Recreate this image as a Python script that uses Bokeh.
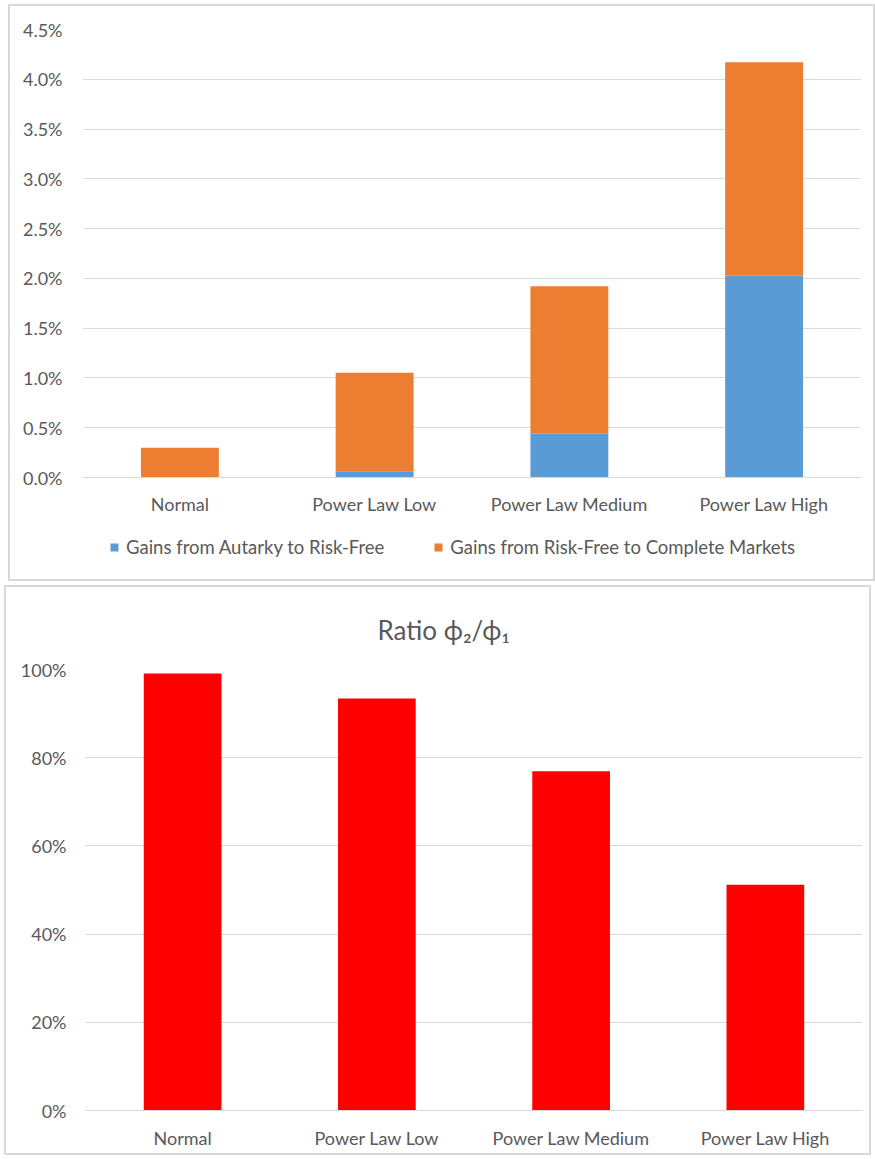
from bokeh.plotting import figure
from bokeh.models import (Legend, LegendItem, NumeralTickFormatter, FixedTicker,
                          Range1d, FactorRange, Title, ColumnDataSource)
from bokeh.layouts import column
from bokeh.embed import file_html
from bokeh.resources import INLINE

# ---- data -------------------------------------------------------------
categories = ["Normal", "Power Law Low", "Power Law Medium", "Power Law High"]
gains_autarky_to_riskfree = [0.0, 0.00063, 0.0044, 0.0203]
gains_riskfree_to_complete = [0.0030, 0.0099, 0.0148, 0.0214]
ratio_phi2_phi1 = [0.991, 0.934, 0.769, 0.512]

gain_ticks = [0.0, 0.005, 0.010, 0.015, 0.020, 0.025, 0.030, 0.035, 0.040, 0.045]
ratio_ticks = [0.0, 0.2, 0.4, 0.6, 0.8, 1.0]

series_names = ["Gains from Autarky to Risk-Free",
                "Gains from Risk-Free to Complete Markets"]

# ---- styling ----------------------------------------------------------
TEXT = "#595959"
GRID = "#D9D9D9"
BLUE = "#5B9BD5"
ORANGE = "#ED7D31"
RED = "#FF0000"
FONT = "Lato"
SIZE = "18px"
BOX = {"border": "2px solid #D9D9D9"}


def style_axes(p):
    for ax in (p.xaxis[0], p.yaxis[0]):
        ax.major_tick_line_color = None
        ax.minor_tick_line_color = None
        ax.major_tick_out = 0
        ax.major_tick_in = 0
        ax.minor_tick_out = 0
        ax.major_label_text_color = TEXT
        ax.major_label_text_font = FONT
        ax.major_label_text_font_size = SIZE
    p.yaxis.axis_line_color = None
    p.xaxis.axis_line_color = GRID
    p.xgrid.grid_line_color = None
    p.ygrid.grid_line_color = GRID
    p.ygrid.grid_line_width = 1
    p.outline_line_color = None


# ---- stacked gains chart ---------------------------------------------
source = ColumnDataSource({"cat": categories,
                           "a": gains_autarky_to_riskfree,
                           "b": gains_riskfree_to_complete})

top = figure(x_range=FactorRange(*categories), y_range=Range1d(0, 0.045),
             width=863, height=516, output_backend="svg", toolbar_location=None,
             min_border_left=72, min_border_right=12, min_border_top=23,
             min_border_bottom=45)
top.vbar_stack(["a", "b"], x="cat", width=0.4, source=source,
               color=[BLUE, ORANGE], line_color=None)

top.yaxis.ticker = FixedTicker(ticks=gain_ticks)
top.yaxis.formatter = NumeralTickFormatter(format="0.0%")
style_axes(top)
top.yaxis.major_label_standoff = 20
top.xaxis.major_label_standoff = 15

# legend strip under the stacked chart; its y window sits above the data,
# so only the legend swatches of the two series show
key = figure(width=863, height=57, output_backend="svg", toolbar_location=None,
             x_axis_type=None, y_axis_type=None, min_border=0,
             x_range=FactorRange(*categories), y_range=Range1d(1, 2))
key.outline_line_color = None
key.grid.visible = False
sw = key.vbar_stack(["a", "b"], x="cat", width=0.4, source=source,
                    color=[BLUE, ORANGE], line_color=None)
legend = Legend(items=[LegendItem(label=series_names[0], renderers=[sw[0]]),
                       LegendItem(label=series_names[1], renderers=[sw[1]])],
                orientation="horizontal", location=(27, 21),
                label_text_font=FONT, label_text_font_size="18.5px",
                label_text_color=TEXT, glyph_width=10, glyph_height=10,
                label_standoff=7, spacing=49, padding=0, margin=0,
                border_line_color=None, background_fill_alpha=0)
key.add_layout(legend, "center")

top_box = column(top, key, styles=BOX)
top_box.margin = (4, 0, 0, 8)

# ---- ratio chart ------------------------------------------------------
bottom = figure(x_range=FactorRange(*categories), y_range=Range1d(0, 1.0),
                width=867, height=570, output_backend="svg", toolbar_location=None,
                min_border_left=79, min_border_right=11, min_border_top=82,
                min_border_bottom=47, styles=BOX)
bottom.margin = (4, 0, 0, 4)

bottom.vbar(x=categories, top=ratio_phi2_phi1, width=0.4, color=RED, line_color=None)
bottom.yaxis.ticker = FixedTicker(ticks=ratio_ticks)
bottom.yaxis.formatter = NumeralTickFormatter(format="0%")
style_axes(bottom)
bottom.yaxis.major_label_standoff = 19
bottom.xaxis.major_label_standoff = 16

bottom.add_layout(Title(text="Ratio ϕ₂/ϕ₁", align="left", offset=292,
                        standoff=48, text_font=FONT, text_font_size="26px",
                        text_font_style="normal", text_color=TEXT), "above")

page = column(top_box, bottom)
open("out.html", "w").write(file_html(page, INLINE))
